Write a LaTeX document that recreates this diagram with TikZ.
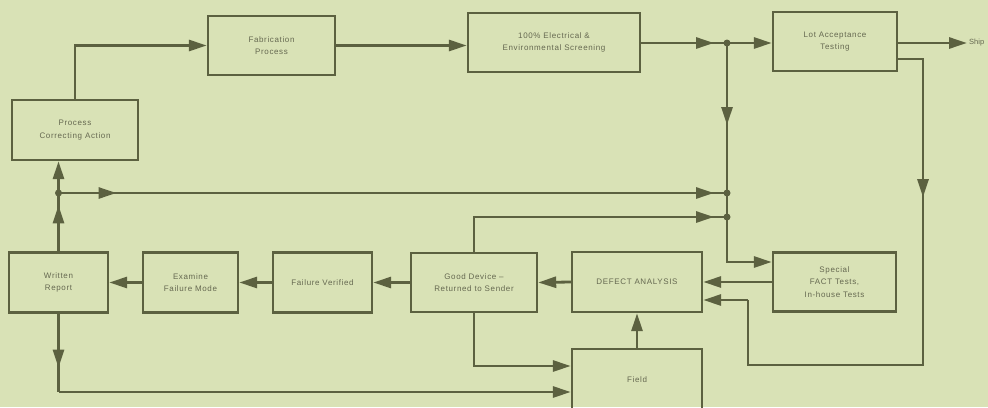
\documentclass[tikz,border=0pt]{standalone}
\usepackage{fontspec}
\newfontfamily\lblfont[LetterSpace=8]{Liberation Sans}
\newfontfamily\shipfont{Liberation Sans}
\usetikzlibrary{arrows.meta,decorations.markings}
\definecolor{bgc}{HTML}{D9E2B6}
\definecolor{lnc}{HTML}{5C6140}
\definecolor{txc}{HTML}{656850}
\tikzset{
  Tri/.tip={Triangle[length=18pt,width=11pt]},
  box/.style={draw=lnc,line width=2.4pt,rectangle,align=center,font=\lblfont\fontsize{8}{12.5}\selectfont,text=txc,inner sep=0pt},
  conn/.style={draw=lnc,line width=2.8pt},
  arr/.style={conn,-{Tri}},
  marr/.style={postaction={decorate,decoration={markings,mark=at position #1 with {\arrow[lnc]{Tri}}}}},
  dot/.style={circle,fill=lnc,inner sep=0pt,minimum size=7pt}
}
\begin{document}
\begin{tikzpicture}[x=1pt,y=-1pt]
\fill[bgc] (0,0) rectangle (988,407);
\useasboundingbox (0,0) rectangle (988,407);
% boxes
\node[box,minimum width=126pt,minimum height=60pt] (pca) at (75,130) {Process\\Correcting Action};
\node[box,minimum width=127pt,minimum height=59pt] (fab) at (271.5,45.5) {Fabrication\\Process};
\node[box,minimum width=172pt,minimum height=59pt] (scr) at (554,42.5) {100\% Electrical \&\\Environmental Screening};
\node[box,minimum width=124pt,minimum height=59pt] (lot) at (835,41.5) {Lot Acceptance\\Testing};
\node[box,minimum width=123pt,minimum height=59pt] (spc) at (834.5,282) {Special\\FACT Tests,\\In-house Tests};
\node[box,minimum width=130pt,minimum height=60pt] (def) at (637,282) {DEFECT ANALYSIS};
\node[box,minimum width=126pt,minimum height=59pt] (good) at (474,282.5) {Good Device –\\Returned to Sender};
\node[box,minimum width=99pt,minimum height=60pt] (fv) at (322.5,282.5) {Failure Verified};
\node[box,minimum width=95pt,minimum height=60pt] (efm) at (190.5,282.5) {Examine\\Failure Mode};
\node[box,minimum width=99pt,minimum height=60pt] (wr) at (58.5,282.5) {Written\\Report};
\node[box,minimum width=130pt,minimum height=62pt] (field) at (637,380) {Field};
\node[font=\shipfont\fontsize{7.5}{9}\selectfont,text=txc,anchor=west,inner sep=0pt] (ship) at (969,43) {Ship};
% junctions
\node[dot] (j1) at (727,43) {};
\node[dot] (j2) at (727,193) {};
\node[dot] (j3) at (727,217) {};
\node[dot] (d1) at (58.5,193) {};
\coordinate (c1) at (923,59);
\coordinate (c2) at (923,365);
\coordinate (c3) at (748,365);
\coordinate (c4) at (748,300);
\coordinate (c5) at (727,262);
\coordinate (c6) at (474,217);
\coordinate (c7) at (58.5,392);
\coordinate (c8) at (474,366);
% connectors
\draw[arr] (pca.north) |- (fab.west);
\draw[arr] (fab.east) -- (fab.east -| scr.west);
\draw[conn,marr=-13pt] (scr.east |- j1) -- (j1.center);
\draw[arr] (j1.center) -- (lot.west |- j1);
\draw[arr] (lot.east |- j1) -- ([xshift=-2pt]ship.west);
\draw[conn,marr=163pt] (lot.east |- c1) -- (c1) -- (c2) -- (c3) -- (c4);
\draw[arr] (c4) -- (def.east |- c4);
\draw[conn,marr=82pt] (j1.center) -- (j2.center);
\draw[conn] (j2.center) -- (j3.center);
\draw[arr] (j3.center) -- (c5) -- (spc.west |- c5);
\draw[conn,marr=58pt,marr=-13pt] (d1.center) -- (j2.center);
\draw[conn,marr=-13pt] (good.north) -- (c6) -- (j3.center);
\draw[arr] (spc.west) -- (def.east);
\draw[arr] (def.west) -- (good.east);
\draw[arr] (good.west) -- (fv.east);
\draw[arr] (fv.west) -- (efm.east);
\draw[arr] (efm.west) -- (wr.east);
\draw[arr] (field.north) -- (def.south);
\draw[conn,marr=46pt] (wr.north) -- (d1.center);
\draw[arr] (d1.center) -- (d1 |- pca.south);
\draw[conn,marr=54pt] (wr.south) -- (c7);
\draw[arr] (c7) -- (field.west |- c7);
\draw[arr] (good.south) -- (c8) -- (field.west |- c8);
\end{tikzpicture}
\end{document}
